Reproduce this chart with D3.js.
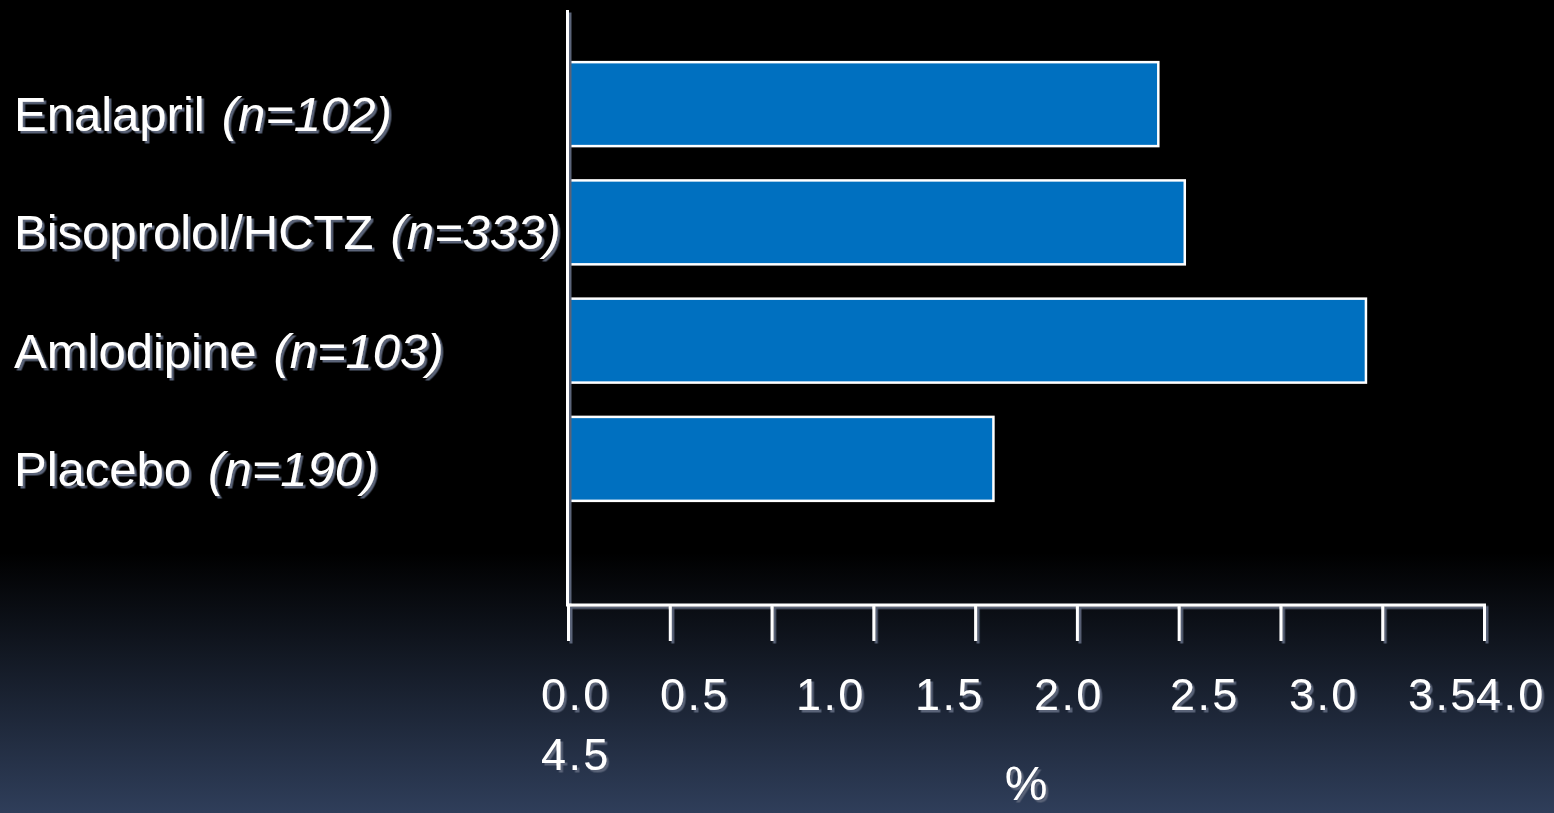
<!DOCTYPE html>
<html>
<head>
<meta charset="utf-8">
<script src="https://cdn.jsdelivr.net/npm/d3@7"></script>
<style>
  html, body { margin: 0; padding: 0; background: #000; overflow: hidden; }
  svg { display: block; }
</style>
</head>
<body>
<div id="chart"></div>
<script>
// ---- data ----
const categories = ["Enalapril", "Bisoprolol/HCTZ", "Amlodipine", "Placebo"];
const sampleSizes = ["(n=102)", "(n=333)", "(n=103)", "(n=190)"];
const values = [2.90, 3.03, 3.92, 2.09];
const tickValues = [0.0, 0.5, 1.0, 1.5, 2.0, 2.5, 3.0, 3.5, 4.0, 4.5];
const tickLabels = ["0.0", "0.5", "1.0", "1.5", "2.0", "2.5", "3.0", "3.5", "4.0", "4.5"];
const axisTitle = "%";

// ---- layout ----
const W = 1554, H = 813;
const svg = d3.select("#chart").append("svg").attr("width", W).attr("height", H);
const defs = svg.append("defs");

const grad = defs.append("linearGradient").attr("id", "bg").attr("x1", 0).attr("y1", 0).attr("x2", 0).attr("y2", 1);
grad.append("stop").attr("offset", "0%").attr("stop-color", "#000000");
grad.append("stop").attr("offset", "68%").attr("stop-color", "#000000");
grad.append("stop").attr("offset", "100%").attr("stop-color", "#2f3e5a");

const shadow = defs.append("filter").attr("id", "shadow")
  .attr("x", "-10%").attr("y", "-10%").attr("width", "130%").attr("height", "130%");
shadow.append("feDropShadow").attr("dx", 2.5).attr("dy", 2.5).attr("stdDeviation", 0.4)
  .attr("flood-color", "#5a6478").attr("flood-opacity", 1);

svg.append("rect").attr("width", W).attr("height", H).attr("fill", "url(#bg)");

const x = d3.scaleLinear().domain([0, 4.5]).range([568, 1484]);
const y = d3.scaleBand().domain(categories).range([45, 518]).paddingInner(0.29).paddingOuter(0.145);

// bars
svg.append("g").selectAll("rect").data(categories).join("rect")
  .attr("x", x(0))
  .attr("y", d => y(d))
  .attr("width", (d, i) => x(values[i]) - x(0))
  .attr("height", y.bandwidth())
  .attr("fill", "#0070c0")
  .attr("stroke", "#ffffff")
  .attr("stroke-width", 2.5);

// axes
const axG = svg.append("g").attr("filter", "url(#shadow)");
axG.append("line").attr("x1", x(0) - 0.5).attr("x2", x(0) - 0.5).attr("y1", 10).attr("y2", 606)
  .attr("stroke", "#fff").attr("stroke-width", 3);
const xAxis = d3.axisBottom(x).tickValues(tickValues).tickSize(36).tickSizeOuter(0).tickFormat("");
const gx = axG.append("g").attr("transform", "translate(0,605)").call(xAxis);
gx.select(".domain").attr("stroke", "#fff").attr("stroke-width", 3)
  .attr("d", `M${x(0) - 2},0H${x(4.5) + 2}`);
gx.selectAll(".tick line").attr("stroke", "#fff").attr("stroke-width", 3);

// category labels
const labG = svg.append("g").attr("filter", "url(#shadow)")
  .attr("font-family", "'Liberation Sans', Arial, sans-serif").attr("fill", "#fff");
const lab = labG.selectAll("text").data(categories).join("text")
  .attr("x", 14)
  .attr("y", d => y(d) + y.bandwidth() / 2 + 27)
  .attr("font-size", 49);
lab.append("tspan").text(d => d);
lab.append("tspan").attr("font-style", "italic").attr("dx", 17).text((d, i) => sampleSizes[i]);

// tick labels (flowing text, as in the original: wraps to a second line)
const tl = svg.append("g").attr("filter", "url(#shadow)")
  .attr("font-family", "'Liberation Sans', Arial, sans-serif").attr("fill", "#fff")
  .attr("font-size", 45).attr("letter-spacing", 2.4);
const gapSpaces = [3, 4, 3, 3, 4, 3, 3, 0];
const spaceW = 17, labW = 68;
let cx = 541;
const firstLine = tickLabels.slice(0, 9);
firstLine.forEach((t, i) => {
  tl.append("text").attr("x", cx).attr("y", 710).text(t);
  cx += labW + (i < gapSpaces.length ? gapSpaces[i] * spaceW : 0);
});
tl.append("text").attr("x", 541).attr("y", 770).text(tickLabels[9]);

// axis title
svg.append("text").attr("filter", "url(#shadow)")
  .attr("x", (x(0) + x(4.5)) / 2).attr("y", 800)
  .attr("text-anchor", "middle")
  .attr("font-family", "'Liberation Sans', Arial, sans-serif")
  .attr("font-size", 48).attr("fill", "#fff").text(axisTitle);
</script>
</body>
</html>
